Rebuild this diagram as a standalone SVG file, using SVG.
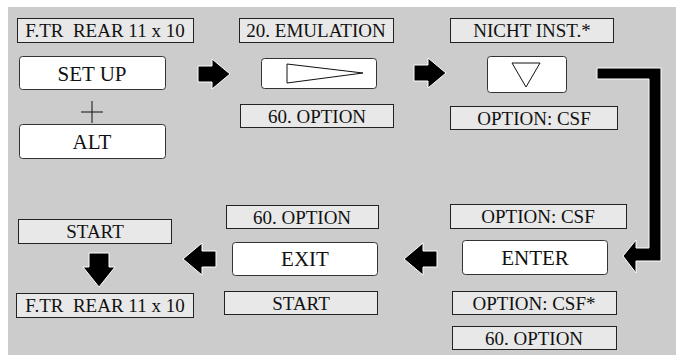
<svg xmlns="http://www.w3.org/2000/svg" width="676" height="355" viewBox="0 0 676 355">
<style>
.bg{fill:#cccccc}
.lbl{fill:#e8e8e8;stroke:#222;stroke-width:1}
.btn{fill:#ffffff;stroke:#333;stroke-width:1}
.arr{fill:#000;stroke:#fff;stroke-width:1;stroke-linejoin:miter}
text{font-family:'Liberation Serif','Tinos','Times New Roman','Nimbus Roman','DejaVu Serif',serif;fill:#111;text-anchor:middle}
.t{font-size:19px;white-space:pre}
.tb{font-size:21px}
.sym{fill:#fff;stroke:#111;stroke-width:1}
</style>
<rect class="bg" x="8" y="7" width="668" height="348"/>
<g id="connectors">
<polygon class="arr" points="198,66 212,66 212,59 230,74 212,89 212,82 198,82"/>
<polygon class="arr" points="414,65 428,65 428,58 446,73 428,88 428,81 414,81"/>
<polygon class="arr" points="597,68 661,68 661,261 636,261 636,273 623,256 636,240 636,248 649,248 649,79 597,79"/>
<polygon class="arr" points="437,251 423,251 423,243 404,259 423,275 423,267 437,267"/>
<polygon class="arr" points="216,251 202,251 202,243 183,259 202,275 202,267 216,267"/>
<polygon class="arr" points="89,253 109,253 109,267 115,267 99,287 83,267 89,267"/>
<g stroke="#111" stroke-width="1"><line x1="81" y1="112" x2="103" y2="112"/><line x1="92" y1="101" x2="92" y2="123"/></g>
</g>
<g id="n_ftr_top"><rect class="lbl" x="17.5" y="18.5" width="176" height="24"/><text class="t" x="105" y="37" font-family="Liberation Serif, serif">F.TR  REAR 11 x 10</text></g>
<g id="n_setup"><rect class="btn" x="19.5" y="56.5" width="146" height="33" rx="3"/><text class="tb" x="92" y="81">SET UP</text></g>
<g id="n_alt"><rect class="btn" x="19.5" y="124.5" width="146" height="34" rx="3"/><text class="tb" x="92" y="149">ALT</text></g>
<g id="n_emul"><rect class="lbl" x="239.5" y="18.5" width="154" height="24"/><text class="t" x="316" y="37">20. EMULATION</text></g>
<g id="n_right"><rect class="btn" x="261.5" y="58.5" width="115" height="30" rx="3"/><polygon class="sym" points="287,64 363,73 287,83"/></g>
<g id="n_opt60_top"><rect class="lbl" x="240.5" y="104.5" width="153" height="23"/><text class="t" x="317" y="123">60. OPTION</text></g>
<g id="n_nicht"><rect class="lbl" x="450.5" y="18.5" width="163" height="24"/><text class="t" x="532" y="37">NICHT INST.*</text></g>
<g id="n_down"><rect class="btn" x="487.5" y="56.5" width="79" height="36" rx="3"/><polygon class="sym" points="512,63 540,63 526,87"/></g>
<g id="n_csf_top"><rect class="lbl" x="450.5" y="106.5" width="167" height="23"/><text class="t" x="534" y="125">OPTION: CSF</text></g>
<g id="n_csf_mid"><rect class="lbl" x="450.5" y="204.5" width="176" height="24"/><text class="t" x="538" y="223">OPTION: CSF</text></g>
<g id="n_enter"><rect class="btn" x="462.5" y="240.5" width="145" height="34" rx="3"/><text class="tb" x="535" y="265">ENTER</text></g>
<g id="n_csfstar"><rect class="lbl" x="452.5" y="291.5" width="164" height="23"/><text class="t" x="534" y="310">OPTION: CSF*</text></g>
<g id="n_opt60_bot"><rect class="lbl" x="452.5" y="326.5" width="164" height="23"/><text class="t" x="534" y="345">60. OPTION</text></g>
<g id="n_opt60_mid"><rect class="lbl" x="226.5" y="205.5" width="152" height="23"/><text class="t" x="302" y="224">60. OPTION</text></g>
<g id="n_exit"><rect class="btn" x="232.5" y="242.5" width="145" height="33" rx="3"/><text class="tb" x="305" y="266">EXIT</text></g>
<g id="n_start_mid"><rect class="lbl" x="224.5" y="291.5" width="153" height="23"/><text class="t" x="301" y="310">START</text></g>
<g id="n_start_left"><rect class="lbl" x="18.5" y="219.5" width="153" height="24"/><text class="t" x="95" y="238">START</text></g>
<g id="n_ftr_bot"><rect class="lbl" x="16.5" y="293.5" width="177" height="24"/><text class="t" x="105" y="312">F.TR  REAR 11 x 10</text></g>
</svg>
